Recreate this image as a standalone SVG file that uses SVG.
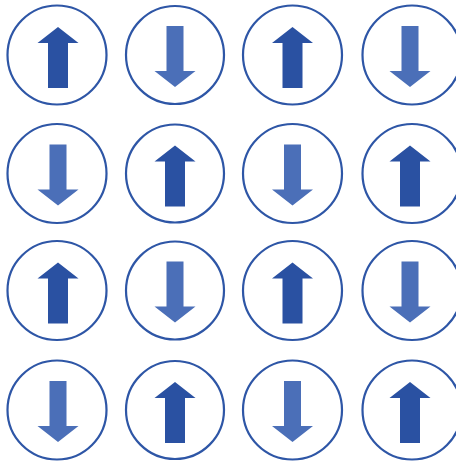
<svg xmlns="http://www.w3.org/2000/svg" xmlns:xlink="http://www.w3.org/1999/xlink" width="456" height="461" viewBox="0 0 456 461">
<style>
.ring{fill:#ffffff;stroke:#2e56a6;stroke-width:2.2}
.up{fill:#2a51a2}
.down{fill:#4b6fb8}
</style>
<defs>
<path id="upArrow" class="up" d="M -10,33 V -12 H -20.5 L 0,-28 L 20.5,-12 H 10 V 33 Z"/>
<path id="downArrow" class="down" d="M -8.5,-29 H 8.5 V 16 H 20.5 L 0,32 L -20.5,16 H -8.5 Z"/>
</defs>
<rect width="456" height="461" fill="#ffffff"/>
<g id="connectors"/>
<!-- row 1 -->
<g id="n11" transform="translate(57,55)"><circle class="ring" r="49.5"/><use xlink:href="#upArrow" href="#upArrow" x="1"/></g>
<g id="n12" transform="translate(175,55)"><circle class="ring" r="49"/><use xlink:href="#downArrow" href="#downArrow"/></g>
<g id="n13" transform="translate(292.5,55)"><circle class="ring" r="49.5"/><use xlink:href="#upArrow" href="#upArrow"/></g>
<g id="n14" transform="translate(412,55)"><circle class="ring" r="49.5"/><use xlink:href="#downArrow" href="#downArrow" x="-2"/></g>
<!-- row 2 -->
<g id="n21" transform="translate(57,173.5)"><circle class="ring" r="49.5"/><use xlink:href="#downArrow" href="#downArrow" x="1"/></g>
<g id="n22" transform="translate(175,173.5)"><circle class="ring" r="49"/><use xlink:href="#upArrow" href="#upArrow"/></g>
<g id="n23" transform="translate(292.5,173.5)"><circle class="ring" r="49.5"/><use xlink:href="#downArrow" href="#downArrow"/></g>
<g id="n24" transform="translate(412,173.5)"><circle class="ring" r="49.5"/><use xlink:href="#upArrow" href="#upArrow" x="-2"/></g>
<!-- row 3 -->
<g id="n31" transform="translate(57,290.5)"><circle class="ring" r="49.5"/><use xlink:href="#upArrow" href="#upArrow" x="1"/></g>
<g id="n32" transform="translate(175,290.5)"><circle class="ring" r="49"/><use xlink:href="#downArrow" href="#downArrow"/></g>
<g id="n33" transform="translate(292.5,290.5)"><circle class="ring" r="49.5"/><use xlink:href="#upArrow" href="#upArrow"/></g>
<g id="n34" transform="translate(412,290.5)"><circle class="ring" r="49.5"/><use xlink:href="#downArrow" href="#downArrow" x="-2"/></g>
<!-- row 4 -->
<g id="n41" transform="translate(57,410)"><circle class="ring" r="49.5"/><use xlink:href="#downArrow" href="#downArrow" x="1"/></g>
<g id="n42" transform="translate(175,410)"><circle class="ring" r="49"/><use xlink:href="#upArrow" href="#upArrow"/></g>
<g id="n43" transform="translate(292.5,410)"><circle class="ring" r="49.5"/><use xlink:href="#downArrow" href="#downArrow"/></g>
<g id="n44" transform="translate(412,410)"><circle class="ring" r="49.5"/><use xlink:href="#upArrow" href="#upArrow" x="-2"/></g>
</svg>
